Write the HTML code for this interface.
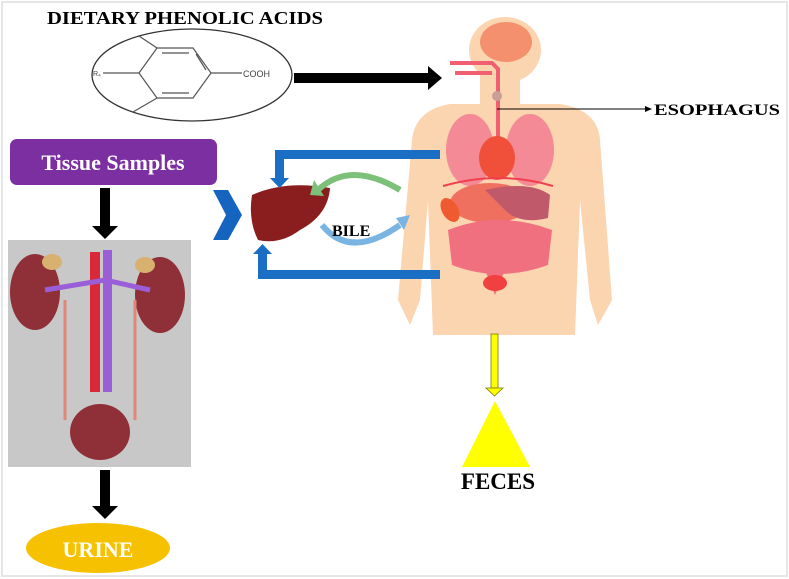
<!DOCTYPE html>
<html><head><meta charset="utf-8"><style>
html,body{margin:0;padding:0;background:#fff;}
svg{display:block;font-family:"Liberation Serif",serif;}
</style></head><body>
<svg width="789" height="579" viewBox="0 0 789 579" xmlns="http://www.w3.org/2000/svg">
<rect x="2" y="2" width="785" height="574" fill="#fff" stroke="#e6e6e6" stroke-width="2"/>
<!-- Title -->
<text x="47" y="24" font-size="18" font-weight="bold" textLength="276" lengthAdjust="spacingAndGlyphs">DIETARY PHENOLIC ACIDS</text>
<!-- Molecule -->
<ellipse cx="192" cy="75" rx="100" ry="46" fill="none" stroke="#333" stroke-width="1.3"/>
<g stroke="#555" stroke-width="1.2" fill="none">
<polygon points="157,48 193,48 211,73 193,98 157,98 139,73"/>
<line x1="162" y1="53" x2="189" y2="53"/><line x1="162" y1="93" x2="189" y2="93"/><line x1="196" y1="54" x2="206" y2="70"/>
<line x1="139" y1="73" x2="103" y2="73"/><line x1="211" y1="73" x2="242" y2="73"/>
<line x1="157" y1="48" x2="139" y2="36"/><line x1="157" y1="98" x2="133" y2="112"/>
</g>
<text x="93" y="76" font-size="7" fill="#444" font-family="Liberation Sans,sans-serif">R₄</text>
<text x="243" y="77" font-size="9" fill="#444" font-family="Liberation Sans,sans-serif">COOH</text>
<!-- black arrow right -->
<rect x="294" y="73" width="134" height="10" fill="#000"/>
<polygon points="428,66 442,78 428,90" fill="#000"/>
<!-- Body -->
<g fill="#fbd4b0">
<ellipse cx="505" cy="50" rx="36" ry="33"/>
<rect x="480" y="70" width="40" height="40"/>
<path d="M412,140 Q415,110 450,104 L560,104 Q598,110 600,140 L612,300 L598,325 L590,300 L580,200 L575,335 L433,335 L428,200 L420,300 L410,325 L398,300 Z"/>
</g>
<!-- organs -->
<g>
<ellipse cx="506" cy="42" rx="26" ry="20" fill="#f4906e"/>
<path d="M450,63 h42 l6,6 v80" stroke="#f06070" stroke-width="4" fill="none"/>
<path d="M455,73 h37" stroke="#f06070" stroke-width="4" fill="none"/>
<circle cx="497" cy="96" r="5" fill="#c9a098"/>
<line x1="497" y1="109" x2="646" y2="109" stroke="#000" stroke-width="1"/>
<polygon points="645,106 652,109 645,112" fill="#000"/>
<ellipse cx="470" cy="150" rx="24" ry="36" fill="#f48a95"/>
<ellipse cx="530" cy="150" rx="24" ry="36" fill="#f48a95"/>
<ellipse cx="497" cy="158" rx="18" ry="22" fill="#f0503a"/>
<path d="M443,186 Q500,170 553,186" stroke="#f04050" stroke-width="2" fill="none"/>
<ellipse cx="490" cy="203" rx="40" ry="20" fill="#f07060"/>
<path d="M485,190 Q530,180 550,195 L548,218 Q520,225 505,210 Z" fill="#c05a6a"/>
<ellipse cx="450" cy="210" rx="8" ry="13" fill="#f05a30" transform="rotate(-30 450 210)"/>
<path d="M448,230 q50,-20 104,0 l-4,35 q-50,18 -96,0 z" fill="#f07080"/>
<path d="M485,270 l10,25 l10,-25z" fill="#f07080"/>
<ellipse cx="495" cy="283" rx="12" ry="8" fill="#f04040"/>
</g>
<!-- Tissue samples -->
<rect x="10" y="139" width="207" height="46" rx="7" fill="#7b2fa0"/>
<text x="113" y="170" font-size="22" font-weight="bold" fill="#fff" text-anchor="middle">Tissue Samples</text>
<rect x="100" y="188" width="10" height="38" fill="#000"/><polygon points="92,226 118,226 105,239" fill="#000"/>
<!-- kidney image -->
<rect x="8" y="240" width="183" height="227" fill="#c8c8c8"/>
<ellipse cx="35" cy="292" rx="25" ry="38" fill="#8f3038"/>
<ellipse cx="160" cy="295" rx="25" ry="38" fill="#8f3038"/>
<ellipse cx="52" cy="262" rx="10" ry="8" fill="#d8b070"/>
<ellipse cx="145" cy="265" rx="10" ry="8" fill="#d8b070"/>
<rect x="90" y="252" width="10" height="140" fill="#d8283a"/>
<rect x="103" y="250" width="9" height="142" fill="#9a5ed8"/>
<path d="M45,290 L105,280 L150,290" stroke="#9a5ed8" stroke-width="5" fill="none"/>
<path d="M65,300 V420 M135,300 V420" stroke="#e08878" stroke-width="3" fill="none"/>
<ellipse cx="100" cy="432" rx="30" ry="28" fill="#8f3038"/>
<rect x="100" y="470" width="10" height="38" fill="#000"/><polygon points="92,506 118,506 105,519" fill="#000"/>
<ellipse cx="98" cy="548" rx="72" ry="25" fill="#f5c100"/>
<text x="98" y="557" font-size="22" font-weight="bold" fill="#fff" text-anchor="middle">URINE</text>
<!-- chevron -->
<polygon points="213,190 228,190 242,215 228,240 213,240 226,215" fill="#1565c0"/>
<!-- liver -->
<path d="M252,195 Q285,180 330,188 Q328,215 300,230 Q280,245 258,240 Q248,220 252,195Z" fill="#8a1e1e"/>
<!-- blue brackets -->
<g fill="#1a6fc4">
<rect x="275" y="150" width="165" height="9"/><rect x="275" y="150" width="9" height="30"/><polygon points="270,178 289,178 279.5,188"/>
<rect x="258" y="270" width="182" height="9"/><rect x="258" y="252" width="9" height="27"/><polygon points="253,254 272,254 262.5,244"/>
</g>
<!-- bile cycle -->
<path d="M318,190 Q350,160 400,190" stroke="#7cc07a" stroke-width="6" fill="none"/>
<polygon points="314,180 324,196 310,195" fill="#7cc07a"/>
<path d="M322,225 Q350,260 400,225" stroke="#7ab4e2" stroke-width="6" fill="none"/>
<polygon points="396,218 410,215 404,230" fill="#7ab4e2"/>
<text x="332" y="236" font-size="16" font-weight="bold">BILE</text>
<!-- esophagus label -->
<text x="654" y="115" font-size="16" font-weight="bold" textLength="126" lengthAdjust="spacingAndGlyphs">ESOPHAGUS</text>
<!-- feces -->
<rect x="491" y="334" width="7" height="54" fill="#ffff00" stroke="#7a7a00" stroke-width="0.8"/>
<polygon points="486,388 503,388 494.5,396" fill="#ffff00" stroke="#7a7a00" stroke-width="0.8"/>
<polygon points="495,401 530,467 462,467" fill="#ffff00"/>
<text x="498" y="489" font-size="23" font-weight="bold" text-anchor="middle">FECES</text>
</svg>
</body></html>
